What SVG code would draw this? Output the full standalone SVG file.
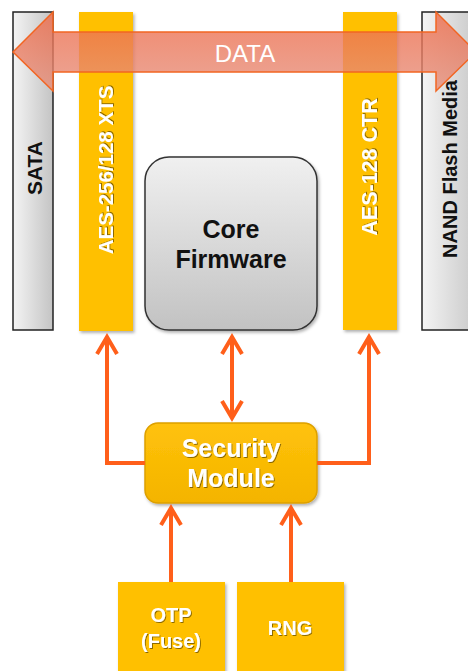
<svg xmlns="http://www.w3.org/2000/svg" width="468" height="671" viewBox="0 0 468 671">
<defs>
<style>
.bar{fill:#FFC000}
.gray{fill:url(#gGray);stroke:#222;stroke-width:1.5}
.lbl{font-family:"Liberation Sans",Arial,sans-serif;font-weight:bold;text-anchor:middle}
.wt{fill:#fff;filter:url(#tsh)}
.bk{fill:#111}
.con{fill:none;stroke:#FF5F1A;stroke-width:4}
</style>
<linearGradient id="gGray" x1="0" y1="0" x2="1" y2="0">
<stop offset="0" stop-color="#f4f4f4"/><stop offset="1" stop-color="#c4c4c4"/>
</linearGradient>
<linearGradient id="gCore" x1="0" y1="0" x2="0" y2="1">
<stop offset="0" stop-color="#f0f0f0"/><stop offset="1" stop-color="#c2c2c2"/>
</linearGradient>
<linearGradient id="gSec" x1="0" y1="0" x2="0" y2="1">
<stop offset="0" stop-color="#FFC20A"/><stop offset="1" stop-color="#F4B400"/>
</linearGradient>
<linearGradient id="gData" x1="0" y1="0" x2="0" y2="1">
<stop offset="0" stop-color="#EE6A48"/><stop offset="1" stop-color="#E6907C"/>
</linearGradient>
<filter id="tsh" x="-20%" y="-20%" width="140%" height="140%">
<feDropShadow dx="1" dy="1" stdDeviation="0.7" flood-color="#000" flood-opacity="0.45"/>
</filter>
<filter id="bsh" x="-20%" y="-20%" width="140%" height="140%">
<feDropShadow dx="1.5" dy="2" stdDeviation="1.5" flood-color="#000" flood-opacity="0.3"/>
</filter>
<marker id="chev" markerUnits="userSpaceOnUse" markerWidth="30" markerHeight="30" viewBox="-22 -15 30 30" refX="0" refY="0" orient="auto-start-reverse" overflow="visible">
<path d="M-17,-10 L0,0 L-17,10" fill="none" stroke="#FF5F1A" stroke-width="4" stroke-linejoin="miter"/>
</marker>
</defs>

<g id="sata">
<rect class="gray" x="13" y="12" width="40" height="318"/>
<text class="lbl bk" font-size="21" transform="translate(42,168) rotate(-90)">SATA</text>
</g>

<g id="aes-xts">
<rect class="bar" x="79" y="12" width="54" height="319" filter="url(#bsh)"/>
<text class="lbl wt" font-size="20.5" transform="translate(113,170) rotate(-90)">AES-256/128 XTS</text>
</g>

<g id="aes-ctr">
<rect class="bar" x="343" y="12" width="54" height="318" filter="url(#bsh)"/>
<text class="lbl wt" font-size="21.5" transform="translate(377,167) rotate(-90)">AES-128 CTR</text>
</g>

<g id="nand">
<rect class="gray" x="422" y="12" width="60" height="318"/>
<text class="lbl bk" font-size="20" transform="translate(457,169) rotate(-90)">NAND Flash Media</text>
</g>

<g id="core">
<rect x="145" y="157" width="172" height="173" rx="24" fill="url(#gCore)" stroke="#333" stroke-width="1.5" filter="url(#bsh)"/>
<text class="lbl bk" font-size="25" x="231" y="238">Core</text>
<text class="lbl bk" font-size="25" x="231" y="268">Firmware</text>
</g>

<g id="security">
<rect x="145" y="423" width="172" height="80" rx="13" fill="url(#gSec)" stroke="#DDA000" stroke-width="1.5" filter="url(#bsh)"/>
<text class="lbl wt" font-size="25" x="231" y="457">Security</text>
<text class="lbl wt" font-size="25" x="231" y="487">Module</text>
</g>

<g id="otp">
<rect class="bar" x="118" y="582" width="107" height="95" filter="url(#bsh)"/>
<text class="lbl wt" font-size="20" x="171" y="622">OTP</text>
<text class="lbl wt" font-size="20" x="171" y="648">(Fuse)</text>
</g>

<g id="rng">
<rect class="bar" x="237" y="582" width="107" height="95" filter="url(#bsh)"/>
<text class="lbl wt" font-size="20" x="290" y="635">RNG</text>
</g>

<g id="connectors">
<path class="con" d="M232,418 L232,337" marker-start="url(#chev)" marker-end="url(#chev)"/>
<path class="con" d="M145,463 L107,463 L107,337" marker-end="url(#chev)"/>
<path class="con" d="M317,463 L369,463 L369,337" marker-end="url(#chev)"/>
<path class="con" d="M171,582 L171,508" marker-end="url(#chev)"/>
<path class="con" d="M291,582 L291,508" marker-end="url(#chev)"/>
</g>

<g id="data">
<path d="M13,52 L53,12 L53,32 L436,32 L436,12 L476,52 L436,91 L436,72 L53,72 L53,91 Z" fill="url(#gData)" fill-opacity="0.8" stroke="#F26522" stroke-width="1.5"/>
<text x="245" y="62" font-family="Liberation Sans, Arial, sans-serif" font-size="24" text-anchor="middle" fill="#fff">DATA</text>
</g>
</svg>
